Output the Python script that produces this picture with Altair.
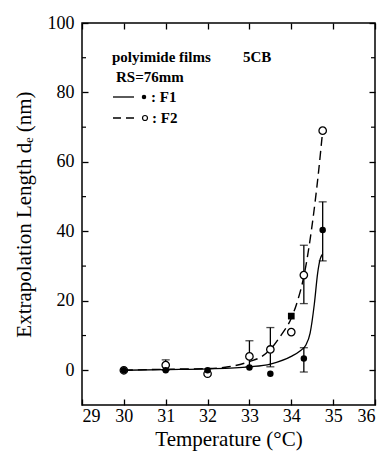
import altair as alt
import pandas as pd

# ---------------- data ----------------
f1_x = [30, 31, 32, 33, 33.5, 34.3, 34.75]
f1_y = [0, 0, 0, 0.8, -1, 3.4, 40.4]

f2_x = [30, 31, 32, 33, 33.5, 34, 34.3, 34.75]
f2_y = [0, 1.5, -1, 4, 6, 11, 27.4, 69]

sq_x = [34]
sq_y = [15.6]

err_x = [31, 33, 33.5, 34.3, 34.3, 34.75]
err_lo = [0, 1, 1, 19.2, -0.5, 31.5]
err_hi = [3, 8.5, 12.3, 36, 6.5, 48.5]

fit1_x = [30, 31, 32, 33, 33.5, 34, 34.2, 34.35, 34.45, 34.55, 34.63, 34.69, 34.75]
fit1_y = [0, 0.2, 0.4, 1, 1.8, 4, 5.5, 7.3, 10.7, 19, 28, 32, 33.5]

fit2_x = [30, 31, 32, 32.5, 33, 33.3, 33.5, 33.75, 34, 34.15, 34.3, 34.5, 34.65, 34.75]
fit2_y = [0, 0.3, 0.5, 1, 2.5, 4, 6, 10, 15, 20, 27, 42, 57, 69]

x_ticks = [29, 30, 31, 32, 33, 34, 35, 36]
y_ticks = [0, 20, 40, 60, 80, 100]
y_minor = [10, 30, 50, 70, 90]

X_DOMAIN = [29, 36]
Y_DOMAIN = [-10, 100]

# --------------- build ----------------
W, H = 293, 382
FONT = "Liberation Serif"

df1 = pd.DataFrame({"x": f1_x, "y": f1_y})
df2 = pd.DataFrame({"x": f2_x, "y": f2_y})
dsq = pd.DataFrame({"x": sq_x, "y": sq_y})
derr = pd.DataFrame({"x": err_x, "lo": err_lo, "hi": err_hi})
dfit1 = pd.DataFrame({"x": fit1_x, "y": fit1_y})
dfit2 = pd.DataFrame({"x": fit2_x, "y": fit2_y})
dminor = pd.DataFrame({"y": y_minor})

xs = alt.Scale(domain=X_DOMAIN, nice=False, zero=False)
ys = alt.Scale(domain=Y_DOMAIN, nice=False, zero=False)


def X(field="x", axis=None):
    return alt.X(f"{field}:Q", scale=xs, axis=axis)


def Y(field="y", axis=None):
    return alt.Y(f"{field}:Q", scale=ys, axis=axis)


axis_x = alt.Axis(
    values=x_ticks, title="Temperature (°C)", offset=-6, tickSize=6, domain=False,
    grid=False, labelPadding=2, labelFont=FONT, labelFontSize=18, titleFont=FONT,
    titleFontSize=21, titleFontWeight="normal", tickColor="black", labelColor="black",
    titleColor="black", titlePadding=3, tickWidth=1.3,
)
axis_y = alt.Axis(
    values=y_ticks, title="Extrapolation Length dₑ (nm)", offset=-6, tickSize=6,
    domain=False, grid=False, labelPadding=8, labelFont=FONT, labelFontSize=18,
    titleFont=FONT, titleFontSize=21, titleFontWeight="normal", tickColor="black",
    labelColor="black", titleColor="black", titleY=H / 2, titleX=-54,
    titleBaseline="bottom", tickWidth=1.3,
)
axis_top = alt.Axis(values=x_ticks, orient="top", offset=-6, tickSize=6, domain=False,
                    labels=False, title=None, grid=False, tickColor="black", tickWidth=1.3)
axis_right = alt.Axis(values=y_ticks, orient="right", offset=-6, tickSize=6, domain=False,
                      labels=False, title=None, grid=False, tickColor="black", tickWidth=1.3)

base_axes = alt.Chart(df1).mark_point(opacity=0).encode(x=X(axis=axis_x), y=Y(axis=axis_y))
top_axes = alt.Chart(df1).mark_point(opacity=0).encode(x=X(axis=axis_top), y=Y(axis=axis_right))

fit1 = alt.Chart(dfit1).mark_line(color="black", strokeWidth=1.3, interpolate="monotone").encode(
    x=X(), y=Y())
fit2 = alt.Chart(dfit2).mark_line(color="black", strokeWidth=1.4, strokeDash=[9, 5],
                                  interpolate="monotone").encode(x=X(), y=Y())

err_rule = alt.Chart(derr).mark_rule(color="black", strokeWidth=1.3).encode(
    x=X(), y=Y("lo"), y2="hi:Q")
err_top = alt.Chart(derr).mark_tick(color="black", size=8, thickness=1.3, orient="horizontal").encode(
    x=X(), y=Y("hi"))
err_bot = alt.Chart(derr).mark_tick(color="black", size=8, thickness=1.3, orient="horizontal").encode(
    x=X(), y=Y("lo"))

pts2 = alt.Chart(df2).mark_point(shape="circle", filled=True, fill="white", stroke="black",
                                 strokeWidth=1.3, size=55, opacity=1).encode(x=X(), y=Y())
pts1 = alt.Chart(df1).mark_point(shape="circle", filled=True, color="black", size=42,
                                 opacity=1).encode(x=X(), y=Y())
sq = alt.Chart(dsq).mark_point(shape="square", filled=True, color="black", size=45,
                               opacity=1).encode(x=X(), y=Y())

minor_l = alt.Chart(dminor).mark_rule(color="black", strokeWidth=1.2).encode(
    y=Y(), x=alt.value(0), x2=alt.value(4))
minor_r = alt.Chart(dminor).mark_rule(color="black", strokeWidth=1.2).encode(
    y=Y(), x=alt.value(W - 4), x2=alt.value(W))

one = alt.Data(values=[{}])


def label(txt, px, py, size=15):
    return alt.Chart(one).mark_text(font=FONT, fontSize=size, align="left",
                                    baseline="middle", color="black", fontWeight="bold").encode(
        x=alt.value(px), y=alt.value(py), text=alt.value(txt))


leg = [
    label("polyimide films", 30, 34),
    label("5CB", 161, 34),
    label("RS=76mm", 34, 54),
    label(": F1", 69, 74),
    label(": F2", 70, 95),
    alt.Chart(one).mark_rule(color="black", strokeWidth=1.3).encode(
        x=alt.value(31), x2=alt.value(52), y=alt.value(74)),
    alt.Chart(one).mark_rule(color="black", strokeWidth=1.5, strokeDash=[8, 5]).encode(
        x=alt.value(31), x2=alt.value(52), y=alt.value(95)),
    alt.Chart(one).mark_point(shape="circle", filled=True, color="black", size=20, opacity=1).encode(
        x=alt.value(62), y=alt.value(74)),
    alt.Chart(one).mark_point(shape="circle", filled=True, fill="white", stroke="black",
                              strokeWidth=1.2, size=25, opacity=1).encode(
        x=alt.value(63), y=alt.value(95)),
]

chart = alt.layer(
    base_axes, top_axes, minor_l, minor_r, fit1, fit2, err_rule, err_top, err_bot,
    pts2, pts1, sq, *leg
).resolve_scale(x="independent", y="independent").properties(
    width=W, height=H,
    autosize=alt.AutoSizeParams(type="none"),
    padding={"left": 74, "top": 15, "right": 3, "bottom": 48},
    background="white",
).configure_view(stroke="black", strokeWidth=1.5)

chart.save("out.html", embed_options={"renderer": "svg", "actions": False})
